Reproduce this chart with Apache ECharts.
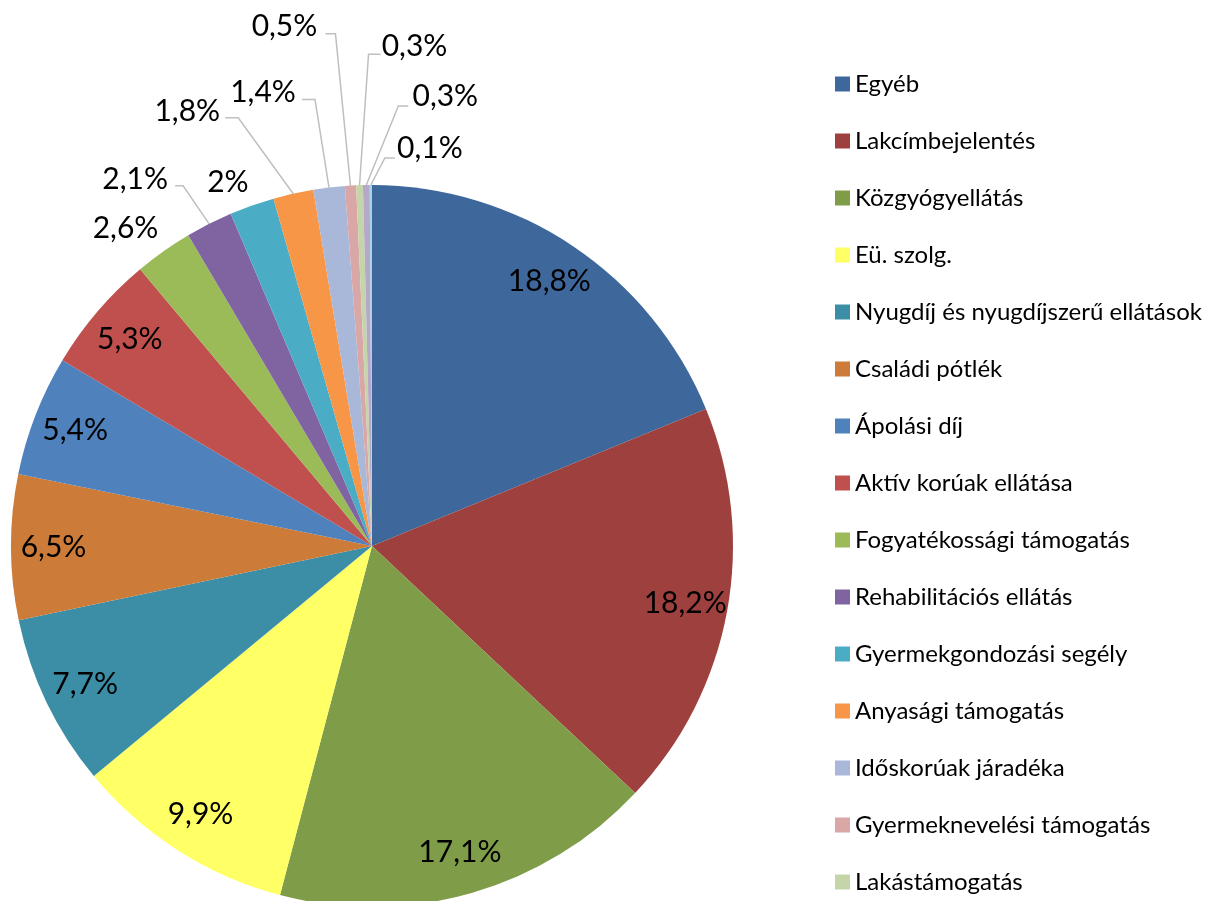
<!DOCTYPE html>
<html>
<head>
<meta charset="utf-8">
<script src="https://cdn.jsdelivr.net/npm/echarts@6/dist/echarts.min.js"></script>
<style>
  html, body { margin: 0; padding: 0; background: #fff; }
  #chart { width: 1211px; height: 901px; }
</style>
</head>
<body>
<div id="chart"></div>
<script>
// categories, shares (%) and slice colours, clockwise from 12 o'clock
var names = ['Egyéb', 'Lakcímbejelentés', 'Közgyógyellátás', 'Eü. szolg.',
  'Nyugdíj és nyugdíjszerű ellátások', 'Családi pótlék', 'Ápolási díj',
  'Aktív korúak ellátása', 'Fogyatékossági támogatás', 'Rehabilitációs ellátás',
  'Gyermekgondozási segély', 'Anyasági támogatás', 'Időskorúak járadéka',
  'Gyermeknevelési támogatás', 'Lakástámogatás', 'Lakásfenntartási támogatás',
  'Egyéb támogatás'];
var values = [18.8, 18.2, 17.1, 9.9, 7.7, 6.5, 5.4, 5.3, 2.6, 2.1, 2, 1.8, 1.4, 0.5, 0.3, 0.3, 0.1];
var colors = ['#3E689B', '#9E413E', '#7F9C48', '#FFFF66', '#3B8EA5', '#CC7B38', '#4F81BD',
  '#C0504D', '#9BBB59', '#8064A2', '#4BACC6', '#F79646', '#A9B8D8', '#D9A7A6',
  '#C4D6A9', '#B6A8CA', '#A3D4E2'];
var legendNames = names.slice(0, 15);

// where the outside labels sit, relative to the slice's rim point
// [label dx, label dy, line end dx, line elbow dx, line dy] (null = no leader line)
var outsideLabel = {
  8:  [-38, -23, null],
  9:  [-74, -45, -34, -26, -38],
  10: [-24, -23, null],
  11: [-106, -82, -68, -55, -76],
  12: [-66, -95, -27, -14, -88],
  13: [-66, -159, -25, -15, -152],
  14: [55, -139, 21, 9, -131],
  15: [79, -89, 42, 32, -79],
  16: [59, -37, 24, 14, -27]
};

var CX = 372, CY = 546, R = 361;
var font = 'Lato, "Open Sans", sans-serif';
var fmt = function (v) { return String(v).replace('.', ',') + '%'; };

var total = values.reduce(function (a, b) { return a + b; }, 0);
function rimPoint(i) {
  var before = 0;
  for (var k = 0; k < i; k++) before += values[k];
  var a = (before + values[i] / 2) / total * Math.PI * 2;
  return [CX + R * Math.sin(a), CY - R * Math.cos(a)];
}

var chart = echarts.init(document.getElementById('chart'));

var mainData = names.map(function (n, i) {
  var o = outsideLabel[i];
  return {
    name: n,
    value: values[i],
    itemStyle: { color: colors[i] },
    label: { show: !!o },
    labelLine: { show: !!(o && o[2] !== null) }
  };
});

var innerLabels = names.map(function (n, i) {
  return {
    name: n,
    value: values[i],
    itemStyle: { color: 'rgba(0,0,0,0)' },
    label: { show: !outsideLabel[i] }
  };
});

chart.setOption({
  animation: false,
  legend: {
    orient: 'vertical',
    left: 830,
    top: 67,
    height: 1000,
    data: legendNames,
    icon: 'rect',
    itemWidth: 15,
    itemHeight: 15,
    itemGap: 33,
    textStyle: { fontFamily: font, fontSize: 24, color: '#000', lineHeight: 24 }
  },
  series: [
    {
      type: 'pie',
      center: [CX, CY],
      radius: R,
      startAngle: 90,
      clockwise: true,
      avoidLabelOverlap: false,
      data: mainData,
      label: {
        position: 'outside',
        formatter: function (p) { return fmt(p.value); },
        fontFamily: font,
        fontSize: 30,
        color: '#000'
      },
      labelLine: {
        length: 20,
        length2: 12,
        lineStyle: { color: '#BFBFBF', width: 1.5 }
      },
      labelLayout: function (p) {
        var o = outsideLabel[p.dataIndex];
        if (!o) return {};
        var rim = rimPoint(p.dataIndex);
        var res = {
          x: rim[0] + o[0],
          y: rim[1] + o[1],
          align: 'center',
          verticalAlign: 'middle'
        };
        if (o[2] !== null) {
          res.labelLinePoints = [
            [rim[0] + o[2], rim[1] + o[4]],
            [rim[0] + o[3], rim[1] + o[4]],
            [rim[0], rim[1]]
          ];
        }
        return res;
      }
    },
    {
      type: 'pie',
      center: [CX, CY],
      radius: [270, R],
      startAngle: 90,
      clockwise: true,
      silent: true,
      data: innerLabels,
      label: {
        position: 'inside',
        formatter: function (p) { return fmt(p.value); },
        fontFamily: font,
        fontSize: 30,
        color: '#000'
      },
      labelLine: { show: false }
    }
  ]
});
</script>
</body>
</html>
